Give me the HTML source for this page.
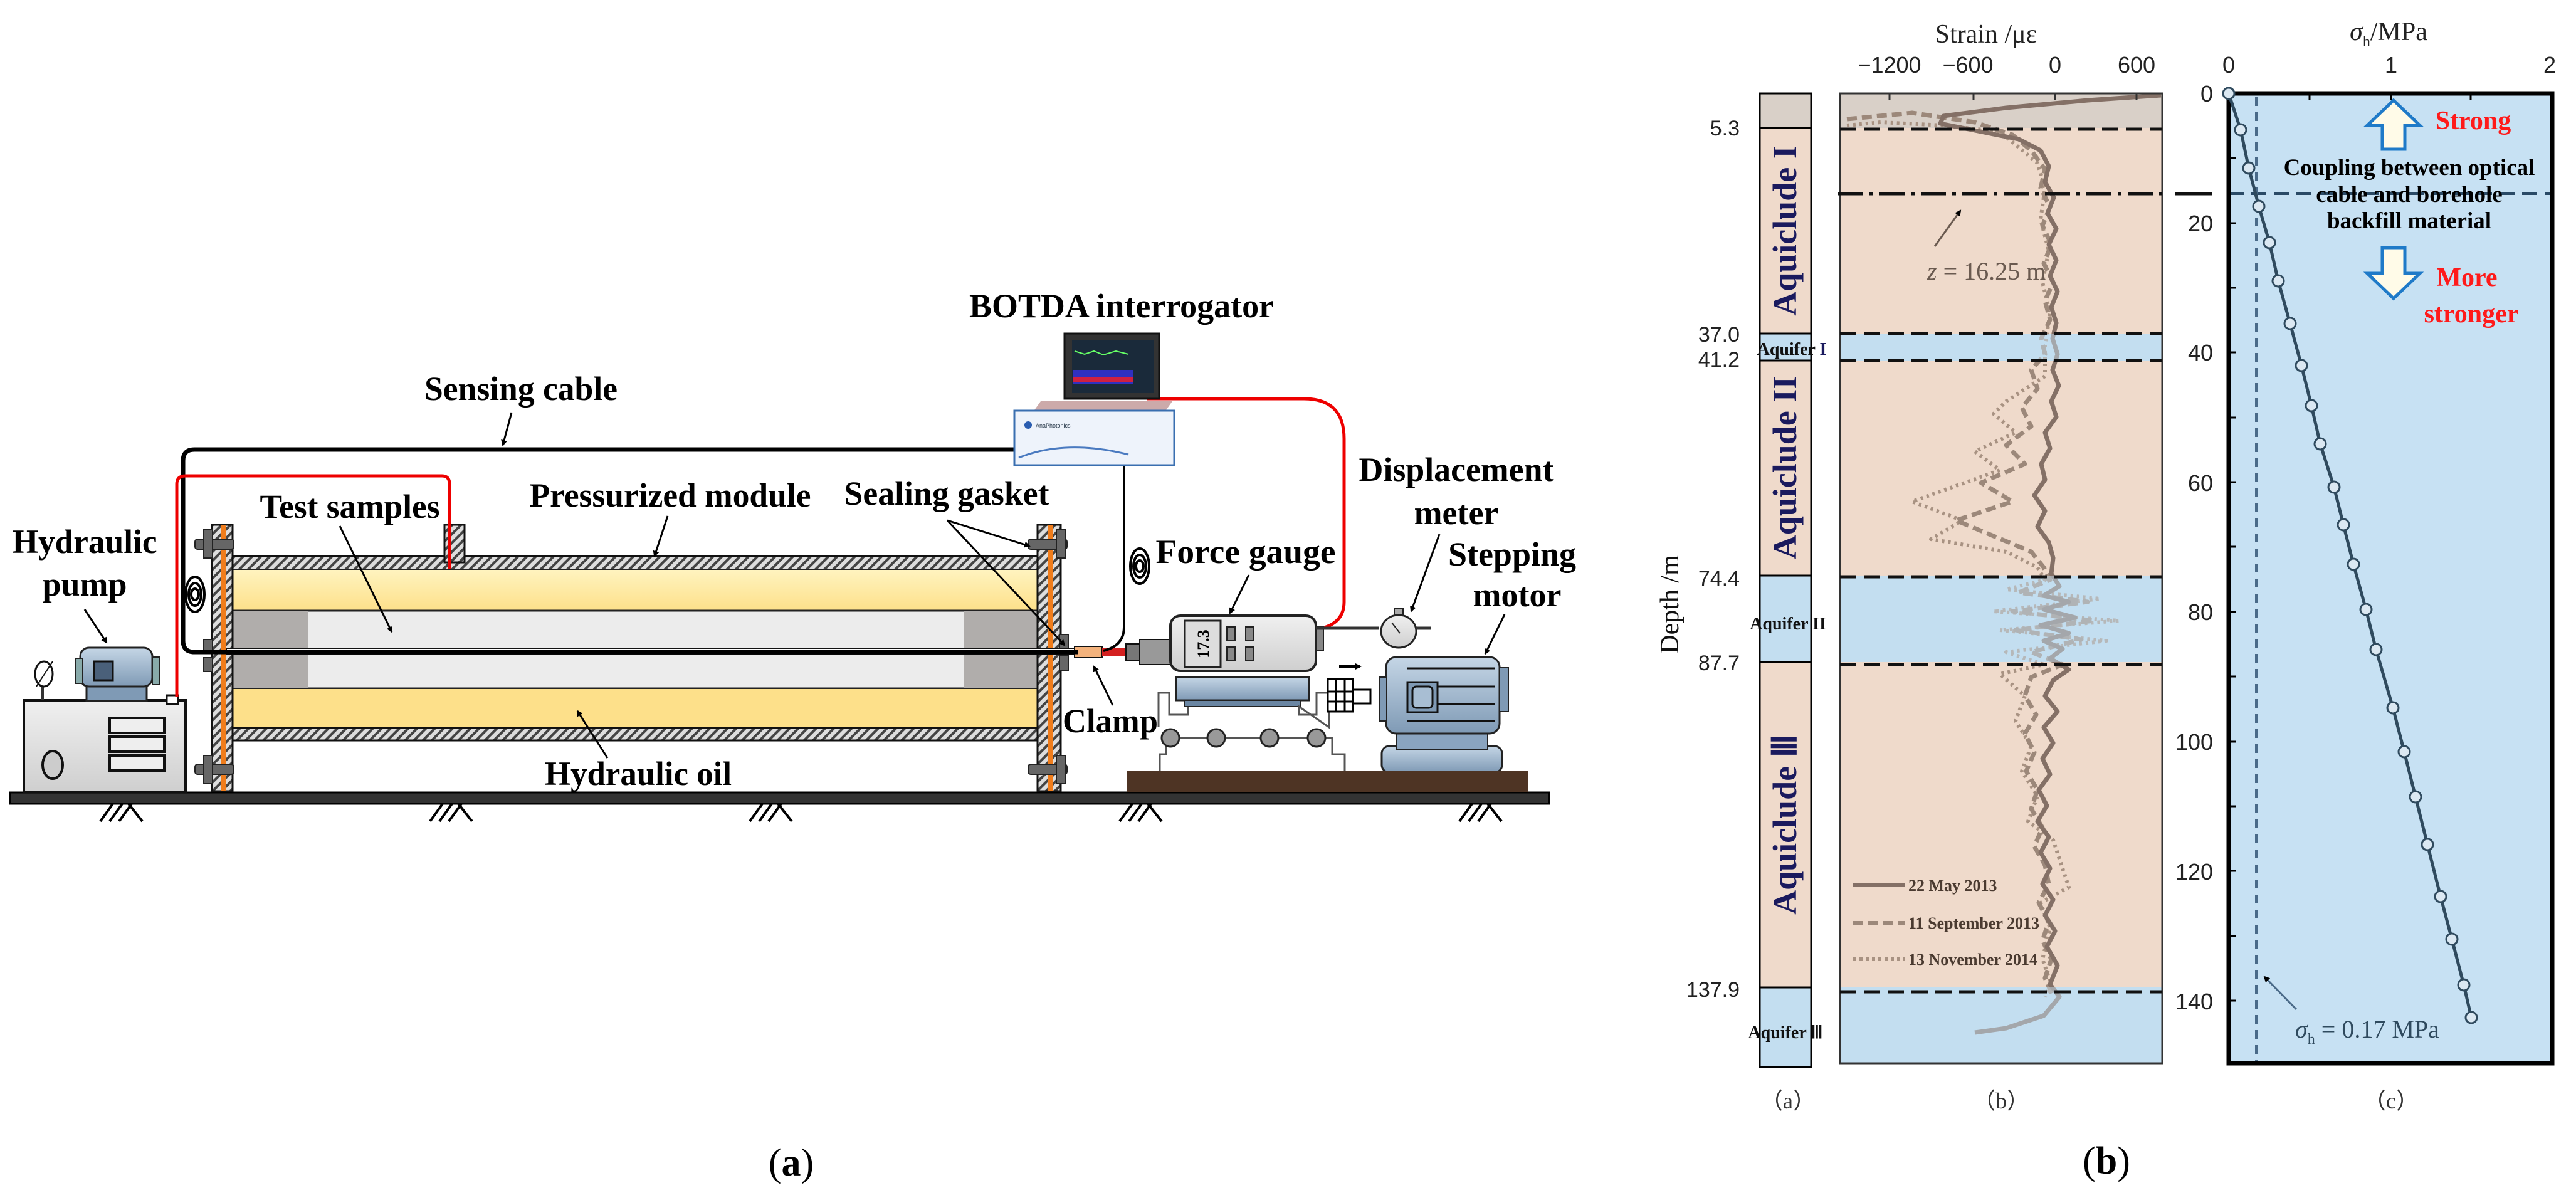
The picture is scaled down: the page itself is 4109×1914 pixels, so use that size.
<!DOCTYPE html>
<html><head><meta charset="utf-8"><style>
html,body{margin:0;padding:0;background:#fff;}
svg{display:block;}
</style></head><body>
<svg width="4109" height="1914" viewBox="0 0 4109 1914" xmlns="http://www.w3.org/2000/svg">
<defs>
<pattern id="hat" width="10" height="10" patternUnits="userSpaceOnUse" patternTransform="rotate(45)">
<rect width="10" height="10" fill="#ddd"/><rect width="4" height="10" fill="#444"/></pattern>
<marker id="ar" markerWidth="10" markerHeight="10" refX="8" refY="5" orient="auto" markerUnits="userSpaceOnUse" viewBox="0 0 10 10">
<path d="M0,0 L10,5 L0,10 z" fill="#000"/></marker>
<linearGradient id="yel" x1="0" y1="0" x2="0" y2="1"><stop offset="0" stop-color="#fff4c0"/><stop offset="1" stop-color="#fde08a"/></linearGradient>
<linearGradient id="bl" x1="0" y1="0" x2="0" y2="1"><stop offset="0" stop-color="#c5d6e6"/><stop offset="1" stop-color="#7f9ab5"/></linearGradient>
<linearGradient id="gr" x1="0" y1="0" x2="0" y2="1"><stop offset="0" stop-color="#f0f0f0"/><stop offset="1" stop-color="#cfcfcf"/></linearGradient>
</defs>

<rect x="16" y="1264" width="2455" height="18" fill="#333" stroke="#000" stroke-width="3"/>
<g stroke="#000" stroke-width="4" fill="none">
<path d="M160,1310 l20,-28 M175,1310 l20,-28 M190,1310 l20,-28 M205,1282 l22,28"/>
<path d="M686,1310 l20,-28 M701,1310 l20,-28 M716,1310 l20,-28 M731,1282 l22,28"/>
<path d="M1196,1310 l20,-28 M1211,1310 l20,-28 M1226,1310 l20,-28 M1241,1282 l22,28"/>
<path d="M1786,1310 l20,-28 M1801,1310 l20,-28 M1816,1310 l20,-28 M1831,1282 l22,28"/>
<path d="M2328,1310 l20,-28 M2343,1310 l20,-28 M2358,1310 l20,-28 M2373,1282 l22,28"/>
</g>

<rect x="38" y="1117" width="258" height="146" fill="url(#gr)" stroke="#111" stroke-width="4"/>
<rect x="175" y="1145" width="87" height="24" fill="#eee" stroke="#111" stroke-width="4"/>
<rect x="175" y="1175" width="87" height="24" fill="#eee" stroke="#111" stroke-width="4"/>
<rect x="175" y="1205" width="87" height="24" fill="#eee" stroke="#111" stroke-width="4"/>
<ellipse cx="84" cy="1220" rx="16" ry="22" fill="#ccc" stroke="#111" stroke-width="4"/>
<rect x="138" y="1090" width="96" height="28" fill="#7f9ab5" stroke="#222" stroke-width="3"/>
<rect x="128" y="1033" width="115" height="62" rx="14" fill="url(#bl)" stroke="#222" stroke-width="3"/>
<rect x="120" y="1050" width="12" height="40" fill="#8aa" stroke="#222" stroke-width="2"/>
<rect x="243" y="1048" width="12" height="44" fill="#8aa" stroke="#222" stroke-width="2"/>
<rect x="150" y="1055" width="30" height="30" fill="#4a607a" stroke="#111" stroke-width="3"/>
<line x1="68" y1="1090" x2="68" y2="1117" stroke="#333" stroke-width="4"/>
<ellipse cx="70" cy="1075" rx="14" ry="20" fill="#fff" stroke="#111" stroke-width="3"/>
<line x1="58" y1="1095" x2="84" y2="1055" stroke="#111" stroke-width="2"/>
<rect x="266" y="1109" width="18" height="14" fill="#fff" stroke="#111" stroke-width="3"/>

<rect x="367" y="887" width="1299" height="22" fill="url(#hat)" stroke="#111" stroke-width="3"/>
<rect x="709" y="837" width="32" height="60" fill="url(#hat)" stroke="#111" stroke-width="3"/>
<rect x="361" y="908" width="1300" height="66" fill="url(#yel)" stroke="#222" stroke-width="2"/>
<rect x="361" y="974" width="1300" height="124" fill="#ececec" stroke="#222" stroke-width="3"/>
<rect x="361" y="974" width="130" height="124" fill="#b0adab"/>
<rect x="1538" y="974" width="123" height="124" fill="#b0adab"/>
<rect x="361" y="1098" width="1300" height="63" fill="#fde08a" stroke="#222" stroke-width="2"/>
<rect x="367" y="1161" width="1299" height="20" fill="url(#hat)" stroke="#111" stroke-width="3"/>
<rect x="338" y="837" width="33" height="425" fill="url(#hat)" stroke="#111" stroke-width="3"/>
<rect x="352" y="837" width="9" height="425" fill="#f07d1c"/>
<rect x="1655" y="837" width="37" height="425" fill="url(#hat)" stroke="#111" stroke-width="3"/>
<rect x="1671" y="837" width="9" height="425" fill="#f07d1c"/>
<g fill="#666" stroke="#222" stroke-width="2">
<rect x="311" y="860" width="62" height="16" rx="4"/><rect x="325" y="845" width="14" height="45"/>
<rect x="311" y="1219" width="62" height="16" rx="4"/><rect x="325" y="1205" width="14" height="45"/>
<rect x="1640" y="860" width="62" height="16" rx="4"/><rect x="1685" y="845" width="14" height="45"/>
<rect x="1640" y="1219" width="62" height="16" rx="4"/><rect x="1685" y="1205" width="14" height="45"/>
<rect x="325" y="1020" width="14" height="22"/><rect x="325" y="1049" width="14" height="22"/>
<rect x="1690" y="1012" width="14" height="24"/><rect x="1690" y="1045" width="14" height="24"/>
</g>
<g fill="none" stroke="#000" stroke-width="4">
<ellipse cx="311" cy="948" rx="15" ry="28"/><ellipse cx="311" cy="948" rx="10" ry="18"/><ellipse cx="311" cy="948" rx="6" ry="9"/>
<ellipse cx="1818" cy="903" rx="15" ry="28"/><ellipse cx="1818" cy="903" rx="10" ry="18"/><ellipse cx="1818" cy="903" rx="6" ry="9"/>
</g>
<rect x="361" y="1034" width="1360" height="10" fill="#fff" stroke="#111" stroke-width="2"/>
<rect x="1714" y="1031" width="44" height="18" fill="#f3b27c" stroke="#111" stroke-width="2"/>
<rect x="1758" y="1033" width="38" height="14" fill="#d42020"/>
<rect x="1796" y="1027" width="22" height="26" fill="#777" stroke="#111" stroke-width="2"/>
<rect x="1818" y="1020" width="50" height="40" fill="#999" stroke="#111" stroke-width="2"/>

<path d="M1785,717 L310,717 Q292,717 292,735 L292,1022 Q292,1040 310,1040 L1720,1040" fill="none" stroke="#000" stroke-width="7"/>
<path d="M1793,740 L1793,1000 Q1793,1030 1760,1038" fill="none" stroke="#000" stroke-width="4"/>
<path d="M282,1112 L282,772 Q282,759 296,759 L705,759 Q717,759 717,772 L717,908" fill="none" stroke="#e00" stroke-width="5"/>
<path d="M1830,636 L2080,636 Q2144,636 2144,700 L2144,960 Q2144,995 2104,1003" fill="none" stroke="#e00" stroke-width="5"/>

<rect x="1698" y="532" width="151" height="104" fill="#333" stroke="#111" stroke-width="3"/>
<rect x="1710" y="542" width="130" height="85" fill="#1a2a3a"/>
<rect x="1712" y="590" width="95" height="22" fill="#3030c0"/>
<rect x="1712" y="602" width="95" height="8" fill="#d02040"/>
<polyline points="1714,560 1730,565 1745,560 1760,566 1780,560 1800,565" stroke="#6f6" stroke-width="2" fill="none"/>
<path d="M1660,640 L1870,640 L1860,654 L1650,654 z" fill="#caa"/>
<rect x="1618" y="655" width="255" height="87" fill="#eef3fb" stroke="#3a6fb0" stroke-width="3"/>
<circle cx="1640" cy="678" r="6" fill="#2a5db0"/>
<text x="1652" y="682" font-family="Liberation Sans,sans-serif" font-size="9" fill="#234">AnaPhotonics</text>
<path d="M1625,730 Q1700,700 1800,725" stroke="#4a7ac0" stroke-width="3" fill="none"/>

<rect x="1867" y="982" width="232" height="88" rx="16" fill="url(#gr)" stroke="#222" stroke-width="4"/>
<rect x="1890" y="990" width="57" height="74" fill="#ddd" stroke="#222" stroke-width="3"/>
<text transform="translate(1928,1027) rotate(-90)" text-anchor="middle" font-family="Liberation Serif,serif" font-weight="bold" font-size="26">17.3</text>
<g fill="#888" stroke="#222" stroke-width="2"><rect x="1957" y="1000" width="13" height="22"/><rect x="1987" y="1000" width="13" height="22"/><rect x="1957" y="1032" width="13" height="22"/><rect x="1987" y="1032" width="13" height="22"/></g>
<rect x="2099" y="1000" width="12" height="38" fill="#888" stroke="#222" stroke-width="2"/>
<line x1="2099" y1="1002" x2="2200" y2="1002" stroke="#333" stroke-width="5"/>
<ellipse cx="2231" cy="1007" rx="28" ry="26" fill="url(#gr)" stroke="#222" stroke-width="3"/>
<rect x="2224" y="970" width="14" height="10" fill="#aaa" stroke="#222" stroke-width="2"/>
<line x1="2258" y1="1002" x2="2282" y2="1002" stroke="#333" stroke-width="5"/>
<line x1="2220" y1="993" x2="2233" y2="1010" stroke="#222" stroke-width="2"/>
<rect x="1876" y="1080" width="212" height="37" fill="url(#bl)" stroke="#222" stroke-width="3"/>
<rect x="1890" y="1117" width="185" height="10" fill="#6a86a3" stroke="#222" stroke-width="2"/>
<path d="M1850,1240 L1850,1203 L1860,1203 L1860,1177 L2125,1177 L2125,1203 L2145,1203 L2145,1240" fill="none" stroke="#555" stroke-width="3"/>
<path d="M1848,1160 L1848,1105 L1865,1105 L1865,1140 L1895,1140 L1895,1127 M2072,1127 L2072,1140 L2100,1140 L2100,1105 L2120,1105 L2120,1160 Z" fill="none" stroke="#555" stroke-width="3"/>
<g fill="#999" stroke="#222" stroke-width="3"><circle cx="1867" cy="1177" r="14"/><circle cx="1940" cy="1177" r="14"/><circle cx="2025" cy="1177" r="14"/><circle cx="2100" cy="1177" r="14"/></g>
<g fill="#fff" stroke="#000" stroke-width="3"><rect x="2118" y="1083" width="40" height="52"/><line x1="2131" y1="1083" x2="2131" y2="1135"/><line x1="2145" y1="1083" x2="2145" y2="1135"/><line x1="2118" y1="1103" x2="2158" y2="1103"/><line x1="2118" y1="1119" x2="2158" y2="1119"/><rect x="2158" y="1100" width="28" height="22"/></g>
<path d="M2136,1063 L2170,1063" stroke="#000" stroke-width="4" marker-end="url(#ar)"/>
<rect x="2204" y="1190" width="192" height="42" rx="12" fill="url(#bl)" stroke="#222" stroke-width="3"/>
<rect x="2228" y="1165" width="145" height="30" fill="#8aa4bf" stroke="#222" stroke-width="2"/>
<rect x="2211" y="1048" width="181" height="122" rx="16" fill="url(#bl)" stroke="#222" stroke-width="3"/>
<rect x="2200" y="1080" width="12" height="70" fill="#7f9ab5" stroke="#222" stroke-width="2"/>
<rect x="2392" y="1065" width="14" height="70" fill="#7f9ab5" stroke="#222" stroke-width="2"/>
<rect x="2245" y="1088" width="48" height="48" fill="#7f9ab5" stroke="#111" stroke-width="3"/>
<rect x="2253" y="1095" width="32" height="34" rx="6" fill="#a8bed3" stroke="#111" stroke-width="3"/>
<g stroke="#111" stroke-width="3"><line x1="2245" y1="1066" x2="2385" y2="1066"/><line x1="2293" y1="1095" x2="2385" y2="1095"/><line x1="2293" y1="1123" x2="2385" y2="1123"/><line x1="2245" y1="1150" x2="2385" y2="1150"/></g>
<rect x="1798" y="1230" width="640" height="34" fill="#4e3424"/>

<g font-family="Liberation Serif, serif" font-weight="bold" font-size="54" fill="#000" text-anchor="middle">
<text x="1789" y="506" textLength="486" lengthAdjust="spacingAndGlyphs">BOTDA interrogator</text>
<text x="831" y="638" textLength="308" lengthAdjust="spacingAndGlyphs">Sensing cable</text>
<text x="558" y="826" textLength="287" lengthAdjust="spacingAndGlyphs">Test samples</text>
<text x="1069" y="808" textLength="449" lengthAdjust="spacingAndGlyphs">Pressurized module</text>
<text x="1510" y="805" textLength="327" lengthAdjust="spacingAndGlyphs">Sealing gasket</text>
<text x="135" y="882" textLength="231" lengthAdjust="spacingAndGlyphs">Hydraulic</text>
<text x="135" y="950">pump</text>
<text x="1987" y="898" textLength="287" lengthAdjust="spacingAndGlyphs">Force  gauge</text>
<text x="2323" y="767" textLength="311" lengthAdjust="spacingAndGlyphs">Displacement</text>
<text x="2323" y="836">meter</text>
<text x="2412" y="902">Stepping</text>
<text x="2420" y="967">motor</text>
<text x="1771" y="1168" textLength="152" lengthAdjust="spacingAndGlyphs">Clamp</text>
<text x="1018" y="1252" textLength="298" lengthAdjust="spacingAndGlyphs">Hydraulic oil</text>
</g>
<g stroke="#000" stroke-width="3" marker-end="url(#ar)">
<line x1="816" y1="658" x2="802" y2="710"/>
<line x1="135" y1="972" x2="170" y2="1025"/>
<line x1="542" y1="839" x2="625" y2="1008"/>
<line x1="1065" y1="823" x2="1044" y2="887"/>
<line x1="1511" y1="830" x2="1642" y2="871"/>
<line x1="1511" y1="830" x2="1698" y2="1029"/>
<line x1="1992" y1="917" x2="1962" y2="978"/>
<line x1="2296" y1="852" x2="2251" y2="975"/>
<line x1="2400" y1="980" x2="2369" y2="1043"/>
<line x1="1775" y1="1125" x2="1745" y2="1063"/>
<line x1="969" y1="1209" x2="921" y2="1134"/>
</g>
<text x="1262" y="1875" text-anchor="middle" font-family="Liberation Serif,serif" font-size="62" fill="#000">(<tspan font-weight="bold">a</tspan>)</text>

<rect x="2807" y="149" width="82" height="55" fill="#d9d0c8" stroke="#000" stroke-width="3"/>
<rect x="2807" y="204" width="82" height="328" fill="#efdacb" stroke="#000" stroke-width="3"/>
<rect x="2807" y="532" width="82" height="43" fill="#c3def0" stroke="#000" stroke-width="3"/>
<rect x="2807" y="575" width="82" height="343" fill="#efdacb" stroke="#000" stroke-width="3"/>
<rect x="2807" y="918" width="82" height="138" fill="#c3def0" stroke="#000" stroke-width="3"/>
<rect x="2807" y="1056" width="82" height="519" fill="#efdacb" stroke="#000" stroke-width="3"/>
<rect x="2807" y="1575" width="82" height="127" fill="#c3def0" stroke="#000" stroke-width="3"/>
<g font-family="Liberation Serif,serif" font-weight="bold" fill="#1a1a5e" font-size="54">
<text transform="translate(2865,368) rotate(-90)" text-anchor="middle">Aquiclude I</text>
<text transform="translate(2865,746) rotate(-90)" text-anchor="middle">Aquiclude II</text>
<text transform="translate(2865,1315) rotate(-90)" text-anchor="middle">Aquiclude Ⅲ</text>
</g>
<g font-family="Liberation Serif,serif" font-weight="bold" fill="#111" font-size="28" text-anchor="middle">
<text x="2858" y="566">Aquifer <tspan fill="#1a1a5e">I</tspan></text>
<text x="2852" y="1004">Aquifer II</text>
<text x="2848" y="1656">Aquifer Ⅲ</text>
</g>
<g font-family="Liberation Sans, sans-serif" fill="#222" text-anchor="end" font-size="34">
<text x="2775" y="216">5.3</text><text x="2775" y="545">37.0</text><text x="2775" y="585">41.2</text>
<text x="2775" y="934">74.4</text><text x="2775" y="1069">87.7</text><text x="2775" y="1590">137.9</text>
</g>
<text transform="translate(2677,964) rotate(-90)" text-anchor="middle" font-family="Liberation Serif,serif" font-size="42" fill="#111">Depth /m</text>

<rect x="2935" y="149" width="514" height="55" fill="#d9d0c8"/>
<rect x="2935" y="204" width="514" height="328" fill="#efdacb"/>
<rect x="2935" y="532" width="514" height="43" fill="#c3def0"/>
<rect x="2935" y="575" width="514" height="343" fill="#efdacb"/>
<rect x="2935" y="918" width="514" height="138" fill="#c3def0"/>
<rect x="2935" y="1056" width="514" height="519" fill="#efdacb"/>
<rect x="2935" y="1575" width="514" height="121" fill="#c3def0"/>
<g fill="none" stroke-linejoin="round">
<polyline stroke="#a89282" stroke-width="6" stroke-dasharray="4,6" points="2946,200 3000,195 3100,200 3190,210 3220,235 3250,260 3262,300 3255,350 3268,400 3258,450 3270,500 3262,550 3262,600 3200,640 3180,660 3215,690 3150,720 3190,750 3050,800 3130,830 3080,860 3200,880 3250,905 3262,925 3200,940 3350,955 3180,975 3380,990 3190,1005 3360,1022 3200,1040 3260,1060 3190,1075 3230,1110 3215,1150 3240,1190 3225,1230 3250,1270 3235,1310 3275,1340 3300,1415 3255,1440 3270,1480 3258,1530 3272,1570 3262,1590"/>
<polyline stroke="#9c887a" stroke-width="7" stroke-dasharray="16,8" points="2946,190 3050,180 3150,195 3210,215 3240,240 3262,270 3255,300 3270,330 3258,360 3272,390 3260,420 3275,450 3262,480 3270,510 3256,540 3262,565 3240,590 3250,620 3225,650 3240,680 3200,710 3230,740 3160,770 3210,800 3120,830 3180,855 3240,880 3260,905 3270,925 3220,945 3330,960 3210,975 3340,990 3215,1005 3320,1020 3240,1040 3290,1060 3240,1080 3230,1110 3248,1140 3230,1170 3245,1200 3232,1230 3250,1260 3240,1290 3258,1320 3245,1350 3262,1380 3268,1410 3252,1440 3268,1470 3258,1500 3272,1530 3262,1560 3275,1590"/>
<polyline stroke="#847066" stroke-width="7" points="3447,152 3330,160 3200,172 3100,185 3095,197 3150,208 3220,222 3255,240 3268,265 3262,290 3276,315 3266,340 3280,365 3268,390 3280,415 3270,440 3282,465 3272,490 3280,515 3274,540 3282,565 3274,590 3284,615 3272,640 3280,665 3262,690 3270,715 3256,740 3262,765 3245,790 3262,815 3250,840 3268,865 3275,890 3272,915 3285,935 3260,950 3300,960 3260,972 3310,985 3255,997 3300,1010 3260,1022 3290,1035 3270,1050 3300,1068 3275,1085 3262,1110 3282,1135 3260,1160 3275,1185 3258,1210 3270,1235 3252,1260 3265,1285 3250,1310 3268,1335 3255,1360 3270,1385 3258,1410 3275,1435 3262,1460 3278,1485 3265,1510 3282,1540 3270,1570 3285,1590 3260,1620 3200,1640 3150,1647"/>
</g>
<g fill="#c3def0" opacity="0.5"><rect x="2935" y="532" width="514" height="43"/><rect x="2935" y="918" width="514" height="138"/><rect x="2935" y="1575" width="514" height="121"/></g>
<rect x="2935" y="149" width="514" height="1547" fill="none" stroke="#333" stroke-width="3"/>
<g stroke="#111" stroke-width="5" stroke-dasharray="26,12">
<line x1="2935" y1="206" x2="3449" y2="206"/><line x1="2935" y1="532" x2="3449" y2="532"/><line x1="2935" y1="575" x2="3449" y2="575"/>
<line x1="2935" y1="920" x2="3449" y2="920"/><line x1="2935" y1="1060" x2="3449" y2="1060"/><line x1="2935" y1="1582" x2="3449" y2="1582"/>
</g>
<line x1="2932" y1="309" x2="3449" y2="309" stroke="#111" stroke-width="5" stroke-dasharray="40,10,6,10"/>
<line x1="3470" y1="309" x2="3528" y2="309" stroke="#111" stroke-width="5"/>
<text x="3074" y="446" font-family="Liberation Serif,serif" font-size="40" fill="#6a5a50"><tspan font-style="italic">z</tspan> = 16.25 m</text>
<line x1="3086" y1="393" x2="3127" y2="336" stroke="#6a5a50" stroke-width="3" marker-end="url(#ar)"/>
<g font-family="Liberation Serif,serif" font-weight="bold" font-size="26" fill="#4a3a30">
<line x1="2956" y1="1412" x2="3038" y2="1412" stroke="#847066" stroke-width="6"/><text x="3044" y="1421">22 May 2013</text>
<line x1="2956" y1="1472" x2="3038" y2="1472" stroke="#9c887a" stroke-width="6" stroke-dasharray="16,8"/><text x="3044" y="1481">11 September 2013</text>
<line x1="2956" y1="1530" x2="3038" y2="1530" stroke="#a89282" stroke-width="6" stroke-dasharray="5,5"/><text x="3044" y="1539">13 November 2014</text>
</g>
<g stroke="#333" stroke-width="3"><line x1="3014" y1="149" x2="3014" y2="160"/><line x1="3148" y1="149" x2="3148" y2="160"/><line x1="3278" y1="149" x2="3278" y2="160"/><line x1="3408" y1="149" x2="3408" y2="160"/></g>
<g font-family="Liberation Sans, sans-serif" fill="#222" text-anchor="middle" font-size="36">
<text x="3014" y="116">−1200</text><text x="3139" y="116">−600</text><text x="3278" y="116">0</text><text x="3408" y="116">600</text>
</g>
<text x="3168" y="68" text-anchor="middle" font-family="Liberation Serif,serif" font-size="42" fill="#222">Strain /με</text>

<rect x="3555" y="149" width="516" height="1547" fill="#c7e1f3"/>
<line x1="3555" y1="309" x2="4071" y2="309" stroke="#2a4a66" stroke-width="4" stroke-dasharray="24,12"/>
<line x1="3599" y1="155" x2="3599" y2="1692" stroke="#4a6a88" stroke-width="4" stroke-dasharray="14,10"/>
<path d="M3555,149 L4071,149 L4071,1696 L3555,1696 Z" fill="none" stroke="#000" stroke-width="7"/>
<g stroke="#000" stroke-width="3">
<line x1="3555" y1="252" x2="3567" y2="252"/><line x1="3555" y1="356" x2="3567" y2="356"/><line x1="3555" y1="459" x2="3567" y2="459"/><line x1="3555" y1="562" x2="3567" y2="562"/><line x1="3555" y1="666" x2="3567" y2="666"/><line x1="3555" y1="769" x2="3567" y2="769"/><line x1="3555" y1="872" x2="3567" y2="872"/><line x1="3555" y1="976" x2="3567" y2="976"/><line x1="3555" y1="1079" x2="3567" y2="1079"/><line x1="3555" y1="1183" x2="3567" y2="1183"/><line x1="3555" y1="1286" x2="3567" y2="1286"/><line x1="3555" y1="1389" x2="3567" y2="1389"/><line x1="3555" y1="1493" x2="3567" y2="1493"/><line x1="3555" y1="1596" x2="3567" y2="1596"/>
<line x1="3684" y1="149" x2="3684" y2="160"/><line x1="3814" y1="149" x2="3814" y2="160"/><line x1="3941" y1="149" x2="3941" y2="160"/>
</g>
<g font-family="Liberation Sans, sans-serif" fill="#222" text-anchor="end" font-size="36">
<text x="3530" y="162">0</text><text x="3530" y="369">20</text><text x="3530" y="575">40</text><text x="3530" y="783">60</text><text x="3530" y="989">80</text><text x="3530" y="1196">100</text><text x="3530" y="1403">120</text><text x="3530" y="1610">140</text>
</g>
<g font-family="Liberation Sans, sans-serif" fill="#222" text-anchor="middle" font-size="36"><text x="3555" y="116">0</text><text x="3814" y="116">1</text><text x="4067" y="116">2</text></g>
<text x="3810" y="64" text-anchor="middle" font-family="Liberation Serif,serif" font-size="42" fill="#222"><tspan font-style="italic">σ</tspan><tspan font-size="24" dy="10">h</tspan><tspan dy="-10">/MPa</tspan></text>
<polyline fill="none" stroke="#2f4a5e" stroke-width="5" points="3555,149 3574,207 3587,268 3603,329 3620,387 3634,448 3653,516 3671,583 3687,647 3701,708 3723,777 3738,837 3754,900 3774,972 3790,1036 3817,1129 3835,1199 3853,1271 3872,1347 3893,1430 3911,1498 3930,1571 3942,1623"/>
<g fill="#dbe8f2" stroke="#2f4a5e" stroke-width="3">
<circle cx="3555" cy="149" r="9"/><circle cx="3574" cy="207" r="9"/><circle cx="3587" cy="268" r="9"/><circle cx="3603" cy="329" r="9"/><circle cx="3620" cy="387" r="9"/><circle cx="3634" cy="448" r="9"/><circle cx="3653" cy="516" r="9"/><circle cx="3671" cy="583" r="9"/><circle cx="3687" cy="647" r="9"/><circle cx="3701" cy="708" r="9"/><circle cx="3723" cy="777" r="9"/><circle cx="3738" cy="837" r="9"/><circle cx="3754" cy="900" r="9"/><circle cx="3774" cy="972" r="9"/><circle cx="3790" cy="1036" r="9"/><circle cx="3817" cy="1129" r="9"/><circle cx="3835" cy="1199" r="9"/><circle cx="3853" cy="1271" r="9"/><circle cx="3872" cy="1347" r="9"/><circle cx="3893" cy="1430" r="9"/><circle cx="3911" cy="1498" r="9"/><circle cx="3930" cy="1571" r="9"/><circle cx="3942" cy="1623" r="9"/>
</g>
<path d="M3818,160 L3860,200 L3836,200 L3836,238 L3800,238 L3800,200 L3776,200 Z" fill="#fffbe8" stroke="#1f7ac8" stroke-width="5"/>
<path d="M3818,476 L3860,436 L3836,436 L3836,395 L3800,395 L3800,436 L3776,436 Z" fill="#fffbe8" stroke="#1f7ac8" stroke-width="5"/>
<g font-family="Liberation Serif,serif" font-weight="bold" fill="#ff1a1a" font-size="42" text-anchor="middle">
<text x="3945" y="206">Strong</text><text x="3935" y="456">More</text><text x="3942" y="514">stronger</text>
</g>
<g font-family="Liberation Serif,serif" font-weight="bold" fill="#000" font-size="37" text-anchor="middle">
<text x="3843" y="279">Coupling between optical</text><text x="3843" y="322">cable and borehole</text><text x="3843" y="364">backfill material</text>
</g>
<text x="3776" y="1655" text-anchor="middle" font-family="Liberation Serif,serif" font-size="40" fill="#2f4a5e"><tspan font-style="italic">σ</tspan><tspan font-size="24" dy="10">h</tspan><tspan dy="-10"> = 0.17 MPa</tspan></text>
<line x1="3663" y1="1610" x2="3612" y2="1558" stroke="#4a6a88" stroke-width="3" marker-end="url(#ar)"/>

<g font-family="Liberation Serif,serif" font-size="36" fill="#333" text-anchor="middle">
<text x="2852" y="1768">（a）</text><text x="3192" y="1768">（b）</text><text x="3814" y="1768">（c）</text>
</g>
<text x="3360" y="1872" text-anchor="middle" font-family="Liberation Serif,serif" font-size="62" fill="#000">(<tspan font-weight="bold">b</tspan>)</text>
</svg>
</body></html>
